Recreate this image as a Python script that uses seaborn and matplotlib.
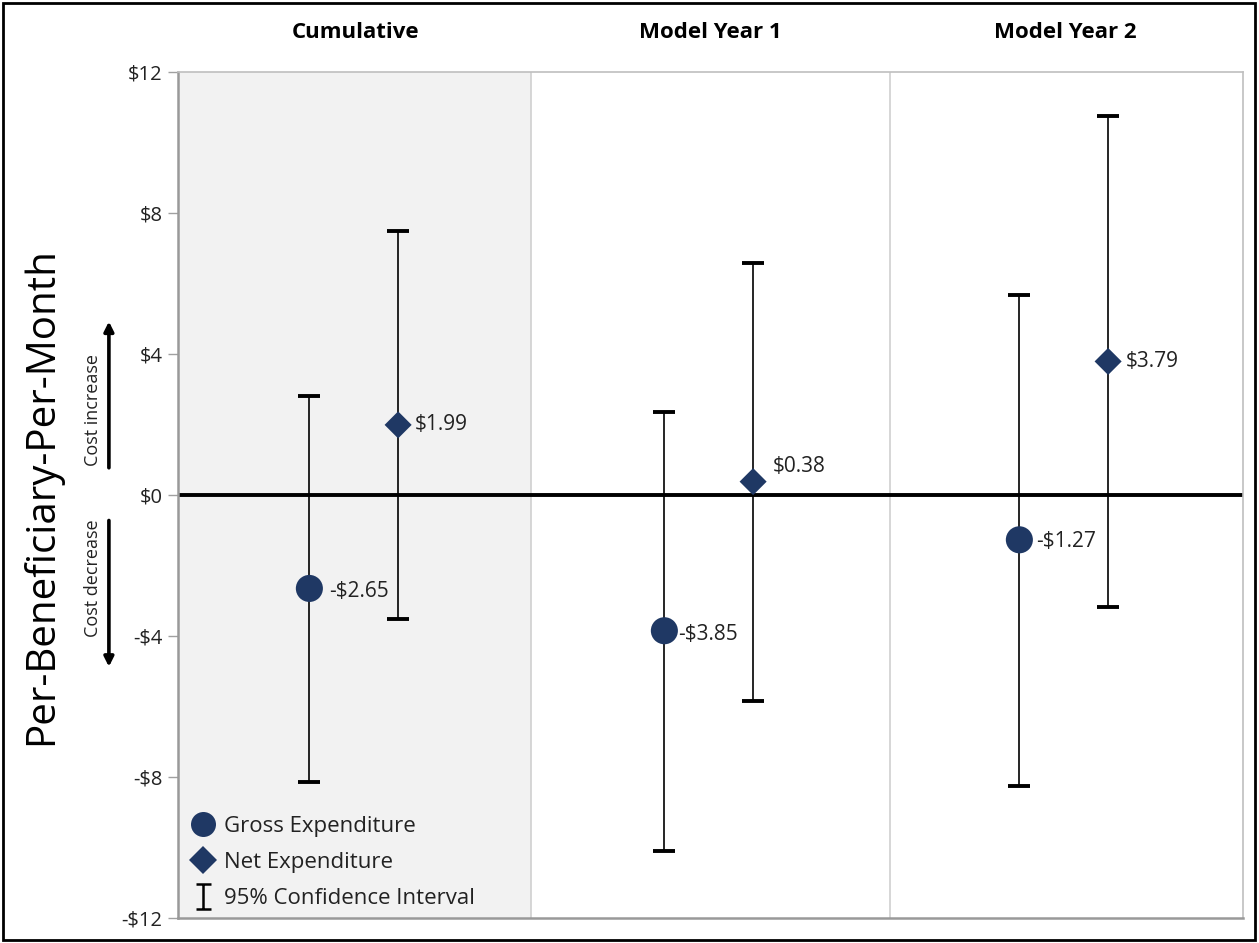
import numpy as np
import pandas as pd
import matplotlib
matplotlib.use("Agg")
import matplotlib.pyplot as plt
import seaborn as sns
from matplotlib.lines import Line2D
from matplotlib.path import Path
from matplotlib.patches import Rectangle, FancyArrowPatch

# Estimates and 95% confidence intervals, per beneficiary per month ($)
periods = ["Cumulative", "Model Year 1", "Model Year 2"]
gross = [-2.65, -3.85, -1.27]
gross_lo = [-8.15, -10.10, -8.25]
gross_hi = [2.80, 2.35, 5.67]
net = [1.99, 0.38, 3.79]
net_lo = [-3.52, -5.84, -3.18]
net_hi = [7.48, 6.58, 10.75]
y_ticks = [-12, -8, -4, 0, 4, 8, 12]
y_tick_labels = ["-$12", "-$8", "-$4", "$0", "$4", "$8", "$12"]

sns.set_theme(style="white")
plt.rcParams["font.family"] = ["Open Sans", "DejaVu Sans"]

navy = "#1F3864"
grid_gray = "#BFBFBF"

rows = []
for i, p in enumerate(periods):
    rows.append(dict(period=p, pos=i - 0.13, kind="Gross Expenditure",
                     value=gross[i], lo=gross_lo[i], hi=gross_hi[i]))
    rows.append(dict(period=p, pos=i + 0.12, kind="Net Expenditure",
                     value=net[i], lo=net_lo[i], hi=net_hi[i]))
df = pd.DataFrame(rows)

fig = plt.figure(figsize=(12.59, 9.43), dpi=100)
ax = fig.add_axes([0.1414, 0.0265, 0.8459, 0.8971])
ax.set_xlim(-0.5, 2.5)
ax.set_ylim(-12, 12)

# shaded cumulative panel and panel dividers
ax.axvspan(-0.5, 0.495, color="#F2F2F2", zorder=0, lw=0)
for xb in [0.495, 1.505]:
    ax.axvline(xb, color="#D0D0D0", lw=1.2, zorder=1)

# zero reference line
ax.axhline(0, color="black", lw=2.8, zorder=2)

# confidence intervals
ax.errorbar(df["pos"], df["value"],
            yerr=[df["value"] - df["lo"], df["hi"] - df["value"]],
            fmt="none", ecolor="black", elinewidth=1.2, capsize=8,
            capthick=2.8, zorder=3)

# point estimates
sns.scatterplot(data=df, x="pos", y="value", style="kind", hue="kind",
                markers={"Gross Expenditure": "o", "Net Expenditure": "D"},
                palette={"Gross Expenditure": navy, "Net Expenditure": navy},
                size="kind", sizes={"Gross Expenditure": 380, "Net Expenditure": 190},
                edgecolor="none", linewidth=0, ax=ax, legend=False, zorder=4)

# value labels
label_offsets = {
    ("Cumulative", "Gross Expenditure"): (14, -2),
    ("Cumulative", "Net Expenditure"): (12, 0),
    ("Model Year 1", "Gross Expenditure"): (10, -3),
    ("Model Year 1", "Net Expenditure"): (14, 11),
    ("Model Year 2", "Gross Expenditure"): (12, -1),
    ("Model Year 2", "Net Expenditure"): (13, 0),
}
for _, r in df.iterrows():
    v = r["value"]
    txt = ("-$%.2f" % abs(v)) if v < 0 else ("$%.2f" % v)
    dx, dy = label_offsets[(r["period"], r["kind"])]
    ax.annotate(txt, (r["pos"], v), xytext=(dx, dy), textcoords="offset points",
                ha="left", va="center", fontsize=15, color="#222222", zorder=5)

# axes styling
ax.set_xticks([])
ax.set_yticks(y_ticks)
ax.set_yticklabels(y_tick_labels, fontsize=14.5, color="#222222")
ax.tick_params(axis="y", direction="out", length=7, width=1, color="#A0A0A0",
               pad=4, left=True)
for s in ax.spines.values():
    s.set_color(grid_gray)
    s.set_linewidth(1.2)
ax.spines["left"].set_color("#999999")
ax.spines["left"].set_linewidth(1.8)
ax.spines["bottom"].set_color("#999999")
ax.spines["bottom"].set_linewidth(1.8)
ax.set_xlabel("")
ax.set_ylabel("")

# panel titles
for i, p in enumerate(periods):
    ax.text(i, 1.047, p, transform=ax.get_xaxis_transform(), ha="center",
            va="center", fontsize=16, fontweight="bold", color="black")

# axis title and direction cues
fig.text(0.033, 0.474, "Per-Beneficiary-Per-Month", rotation=90, ha="center",
         va="center", fontsize=29, color="black")
fig.text(0.074, 0.565, "Cost increase", rotation=90, ha="center", va="center",
         fontsize=13, color="#222222")
fig.text(0.074, 0.387, "Cost decrease", rotation=90, ha="center", va="center",
         fontsize=13, color="#222222")
fig.add_artist(FancyArrowPatch((0.0865, 0.501), (0.0865, 0.662),
                               transform=fig.transFigure, arrowstyle="-|>",
                               mutation_scale=14, lw=2.6, color="black"))
fig.add_artist(FancyArrowPatch((0.0865, 0.451), (0.0865, 0.290),
                               transform=fig.transFigure, arrowstyle="-|>",
                               mutation_scale=14, lw=2.6, color="black"))

# legend: I-beam glyph for the interval entry
ibeam = Path([(-0.6, -1), (0.6, -1), (0, -1), (0, 1), (-0.6, 1), (0.6, 1)],
             [Path.MOVETO, Path.LINETO, Path.MOVETO, Path.LINETO,
              Path.MOVETO, Path.LINETO])
handles = [
    Line2D([], [], ls="none", marker="o", markersize=18, color=navy,
           markeredgewidth=0, label="Gross Expenditure"),
    Line2D([], [], ls="none", marker="D", markersize=14, color=navy,
           markeredgewidth=0, label="Net Expenditure"),
    Line2D([], [], ls="none", marker=ibeam, markersize=18, color="black",
           markeredgewidth=1.8, label="95% Confidence Interval"),
]
leg = ax.legend(handles=handles, loc="lower left", bbox_to_anchor=(-0.006, -0.008),
                frameon=False, fontsize=16, handletextpad=0.25,
                labelspacing=0.68, borderaxespad=0.3, handlelength=1.4)
for t in leg.get_texts():
    t.set_color("#222222")

# outer frame around the figure
fig.add_artist(Rectangle((0.002, 0.003), 0.995, 0.994, transform=fig.transFigure,
                         fill=False, lw=2, edgecolor="black"))

fig.savefig("out.png", dpi=100)
